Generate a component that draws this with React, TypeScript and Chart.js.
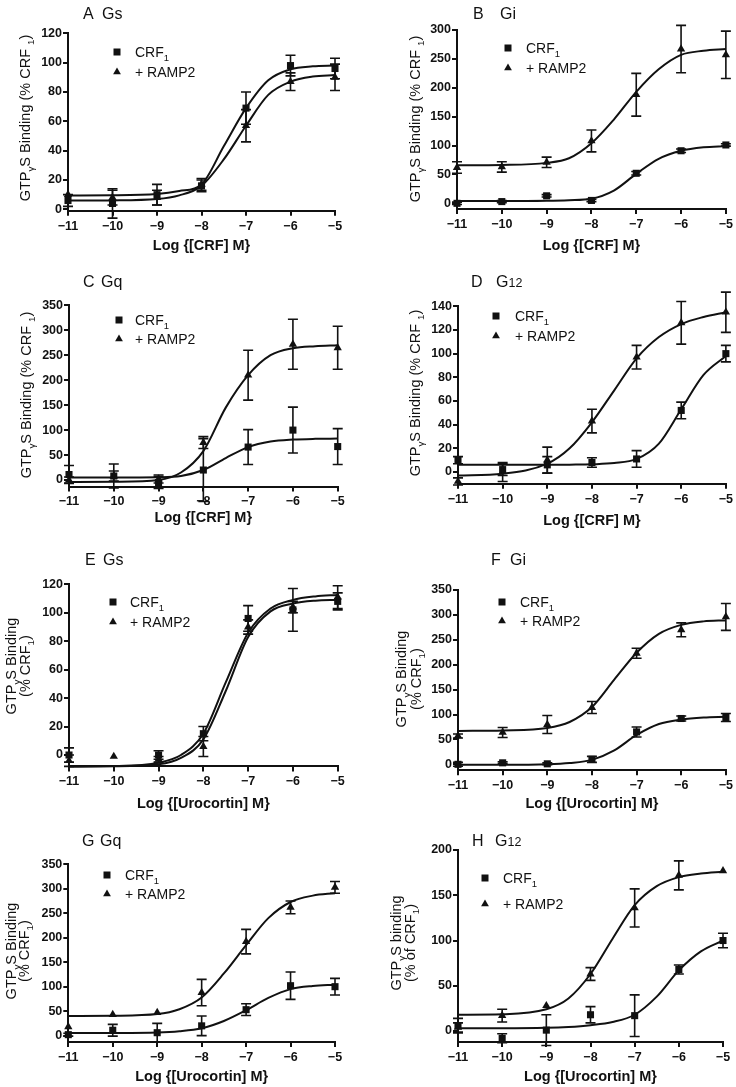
import React, { useEffect, useRef } from 'react';
import { Chart, registerables } from 'chart.js';

Chart.register(...registerables);

const FONT = '"Liberation Sans", Arial, Helvetica, sans-serif';
const INK = '#111';

// ---- shared axes ----
const doses = [-11, -10, -9, -8, -7, -6, -5];
const fitX = [-11, -10, -9, -8.5, -8, -7.5, -7, -6.5, -6, -5.5, -5];
const xTicks = [-11, -10, -9, -8, -7, -6, -5];

// ---- A  Gs (CRF) ----
const aYTicks = [0, 20, 40, 60, 80, 100, 120];
const aCrfY = [6, 4, 10, 16, 69, 98, 96];
const aCrfErr = [4, 10, 7, 4, 11, 7, 7];
const aRampY = [10, 8, 8, 17, 57, 87, 90];
const aRampErr = [0, 5, 5, 4, 11, 6, 9];
const aCrfFit = [9.5, 9.6, 10.5, 12.5, 17, 43, 69, 88, 95.5, 97.5, 98];
const aRampFit = [6, 6.1, 7, 9.5, 16, 34, 57, 78, 87, 90.5, 91.5];

// ---- B  Gi (CRF) ----
const bYTicks = [0, 50, 100, 150, 200, 250, 300];
const bCrfY = [0, 3, 13, 5, 52, 91, 101];
const bCrfErr = [2, 2, 2, 2, 3, 3, 2];
const bRampY = [62, 63, 71, 108, 188, 267, 257];
const bRampErr = [10, 9, 9, 19, 37, 41, 41];
const bCrfFit = [4, 4, 4.5, 5.5, 8, 22, 51, 77, 91, 97, 99];
const bRampFit = [66, 66.5, 70, 78, 104, 145, 193, 232, 257, 264, 267];

// ---- C  Gq (CRF) ----
const cYTicks = [0, 50, 100, 150, 200, 250, 300, 350];
const cCrfY = [11, 8, -5, 20, 66, 100, 67];
const cCrfErr = [18, 24, 12, 63, 35, 46, 36];
const cRampY = [0, 8, 2, 75, 210, 272, 265];
const cRampErr = [6, 10, 8, 12, 50, 50, 43];
const cCrfFit = [5, 5, 5.5, 8, 20, 44, 66, 77, 81, 82.5, 83];
const cRampFit = [-4, -3.5, 0, 15, 58, 145, 210, 250, 264, 268, 270];

// ---- D  G12 (CRF) ----
const dYTicks = [0, 20, 40, 60, 80, 100, 120, 140];
const dCrfY = [10, 2, 6, 8, 11, 52, 100];
const dCrfErr = [3, 5, 7, 4, 7, 7, 7];
const dRampY = [-8, 0, 10, 43, 97, 126, 135];
const dRampErr = [3, 8, 11, 10, 10, 18, 17];
const dCrfFit = [6, 6, 6, 6.2, 6.5, 7.5, 11, 24, 53, 82, 98];
const dRampFit = [-3, -1.5, 7, 20, 42, 69, 96, 114, 125, 131, 135];

// ---- E  Gs (Urocortin) ----
const eYTicks = [0, 20, 40, 60, 80, 100, 120];
const eCrfY: (number | null)[] = [0, null, 0, 15, 96, 102, 108];
const eCrfErr = [5, 0, 3, 5, 9, 15, 6];
const eRampY = [-4, -1, -3, 6, 90, 104, 111];
const eRampErr = [4, 0, 2, 7, 5, 4, 8];
const eCrfFit = [-8, -7.8, -5.5, 0, 15, 51, 86, 103, 109, 111.5, 112.5];
const eRampFit = [-8, -7.9, -6.5, -2, 11, 45, 83, 101, 106.5, 108.5, 109];

// ---- F  Gi (Urocortin) ----
const fYTicks = [0, 50, 100, 150, 200, 250, 300, 350];
const fCrfY = [0, 3, 1, 10, 65, 92, 94];
const fCrfErr = [4, 2, 2, 6, 10, 5, 8];
const fRampY = [57, 64, 80, 114, 223, 270, 296];
const fRampErr = [4, 10, 18, 12, 10, 14, 27];
const fCrfFit = [-1, -1, 0, 2.5, 9, 28, 59, 81, 90, 94, 95.5];
const fRampFit = [67, 68, 73, 85, 115, 170, 224, 262, 280, 287, 289];

// ---- G  Gq (Urocortin) ----
const gYTicks = [0, 50, 100, 150, 200, 250, 300, 350];
const gCrfY = [2, 11, 6, 20, 53, 102, 100];
const gCrfErr = [3, 12, 19, 20, 12, 28, 17];
const gRampY = [18, 43, 47, 88, 192, 262, 303];
const gRampErr = [0, 0, 0, 27, 25, 13, 12];
const gCrfFit = [5.5, 5.6, 6.5, 9, 15, 30, 52, 77, 95, 101.5, 104];
const gRampFit = [40, 40.5, 44, 54, 78, 127, 185, 240, 273, 286, 291];

// ---- H  G12 (Urocortin) ----
const hYTicks = [0, 50, 100, 150, 200];
const hCrfY = [6, -8, 1, 18, 17, 68, 100];
const hCrfErr = [8, 5, 17, 9, 23, 5, 8];
const hRampY = [4, 17, 28, 63, 136, 172, 177];
const hRampErr = [5, 7, 0, 7, 21, 16, 0];
const hCrfFit = [3, 3, 3.5, 4.5, 6.5, 10, 18, 38, 67, 88, 100];
const hRampFit = [18, 18.5, 24, 36, 63, 102, 139, 160, 170, 174, 176];

type Seg = { t: string; sub?: boolean; small?: boolean };
type Val = number | null;

const crfLabel: Seg[] = [{ t: 'CRF' }, { t: '1', sub: true }];
const rampLabel: Seg[] = [{ t: '+ RAMP2' }];
const yOne: Seg[] = [{ t: 'GTP' }, { t: 'γ', sub: true }, { t: 'S Binding (% CRF ' }, { t: '1', sub: true }, { t: ')' }];
const yTwoA: Seg[] = [{ t: 'GTP' }, { t: 'γ', sub: true }, { t: 'S Binding' }];
const yTwoB: Seg[] = [{ t: '(% CRF' }, { t: '1', sub: true }, { t: ')' }];
const yTwoAh: Seg[] = [{ t: 'GTP' }, { t: 'γ', sub: true }, { t: 'S binding' }];
const yTwoBh: Seg[] = [{ t: '(% of CRF' }, { t: '1', sub: true }, { t: ')' }];
const g12: Seg[] = [{ t: 'G' }, { t: '12', small: true }];

interface Panel {
  key: string;
  box: [number, number, number, number];
  plot: [number, number, number, number];
  yMin: number;
  yMax: number;
  yTicks: number[];
  crfY: Val[];
  crfErr: number[];
  rampY: Val[];
  rampErr: number[];
  crfFit: number[];
  rampFit: number[];
  letterX: number;
  nameX: number;
  titleY: number;
  name: Seg[];
  leg: { x: number; y1: number; y2: number; tx: number };
  yTitle: { x: number; y: number; segs: Seg[] }[];
  xTitle: string;
  xTitleY: number;
}

const panels: Panel[] = [
  {
    key: 'A', box: [0, 0, 368, 268], plot: [68, 33.3, 335, 210.8], yMin: -1, yMax: 120, yTicks: aYTicks,
    crfY: aCrfY, crfErr: aCrfErr, rampY: aRampY, rampErr: aRampErr, crfFit: aCrfFit, rampFit: aRampFit,
    letterX: 83, nameX: 102, titleY: 13, name: [{ t: 'Gs' }],
    leg: { x: 117, y1: 52, y2: 72, tx: 135 },
    yTitle: [{ x: 25, y: 118, segs: yOne }], xTitle: 'Log {[CRF] M}', xTitleY: 245,
  },
  {
    key: 'B', box: [368, 0, 368, 268], plot: [457, 30, 726, 209.1], yMin: -10, yMax: 300, yTicks: bYTicks,
    crfY: bCrfY, crfErr: bCrfErr, rampY: bRampY, rampErr: bRampErr, crfFit: bCrfFit, rampFit: bRampFit,
    letterX: 473, nameX: 500, titleY: 13, name: [{ t: 'Gi' }],
    leg: { x: 508, y1: 48, y2: 68, tx: 526 },
    yTitle: [{ x: 415, y: 119, segs: yOne }], xTitle: 'Log {[CRF] M}', xTitleY: 245,
  },
  {
    key: 'C', box: [0, 268, 368, 267], plot: [69, 305.3, 337.7, 486.5], yMin: -13, yMax: 350, yTicks: cYTicks,
    crfY: cCrfY, crfErr: cCrfErr, rampY: cRampY, rampErr: cRampErr, crfFit: cCrfFit, rampFit: cRampFit,
    letterX: 83, nameX: 101, titleY: 281, name: [{ t: 'Gq' }],
    leg: { x: 119, y1: 320, y2: 339, tx: 135 },
    yTitle: [{ x: 26, y: 395, segs: yOne }], xTitle: 'Log {[CRF] M}', xTitleY: 517,
  },
  {
    key: 'D', box: [368, 268, 368, 267], plot: [458, 306.3, 726, 483.8], yMin: -10, yMax: 140, yTicks: dYTicks,
    crfY: dCrfY, crfErr: dCrfErr, rampY: dRampY, rampErr: dRampErr, crfFit: dCrfFit, rampFit: dRampFit,
    letterX: 471, nameX: 496, titleY: 281, name: g12,
    leg: { x: 496, y1: 316, y2: 336, tx: 515 },
    yTitle: [{ x: 415, y: 393, segs: yOne }], xTitle: 'Log {[CRF] M}', xTitleY: 520,
  },
  {
    key: 'E', box: [0, 535, 368, 278], plot: [69, 584.3, 337.7, 766.4], yMin: -8, yMax: 120, yTicks: eYTicks,
    crfY: eCrfY, crfErr: eCrfErr, rampY: eRampY, rampErr: eRampErr, crfFit: eCrfFit, rampFit: eRampFit,
    letterX: 85, nameX: 103, titleY: 559, name: [{ t: 'Gs' }],
    leg: { x: 113, y1: 602, y2: 622, tx: 130 },
    yTitle: [{ x: 11, y: 666, segs: yTwoA }, { x: 25, y: 666, segs: yTwoB }], xTitle: 'Log {[Urocortin] M}', xTitleY: 803,
  },
  {
    key: 'F', box: [368, 535, 368, 278], plot: [458, 590, 726, 770.3], yMin: -12, yMax: 350, yTicks: fYTicks,
    crfY: fCrfY, crfErr: fCrfErr, rampY: fRampY, rampErr: fRampErr, crfFit: fCrfFit, rampFit: fRampFit,
    letterX: 491, nameX: 510, titleY: 559, name: [{ t: 'Gi' }],
    leg: { x: 502, y1: 602, y2: 621, tx: 520 },
    yTitle: [{ x: 401, y: 679, segs: yTwoA }, { x: 416, y: 679, segs: yTwoB }], xTitle: 'Log {[Urocortin] M}', xTitleY: 803,
  },
  {
    key: 'G', box: [0, 815, 368, 272], plot: [68.3, 864.3, 335, 1042], yMin: -13, yMax: 350, yTicks: gYTicks,
    crfY: gCrfY, crfErr: gCrfErr, rampY: gRampY, rampErr: gRampErr, crfFit: gCrfFit, rampFit: gRampFit,
    letterX: 82, nameX: 100, titleY: 840, name: [{ t: 'Gq' }],
    leg: { x: 107, y1: 875, y2: 894, tx: 125 },
    yTitle: [{ x: 11, y: 951, segs: yTwoA }, { x: 24, y: 951, segs: yTwoB }], xTitle: 'Log {[Urocortin] M}', xTitleY: 1076,
  },
  {
    key: 'H', box: [368, 815, 368, 272], plot: [458, 850, 723, 1041.9], yMin: -12, yMax: 200, yTicks: hYTicks,
    crfY: hCrfY, crfErr: hCrfErr, rampY: hRampY, rampErr: hRampErr, crfFit: hCrfFit, rampFit: hRampFit,
    letterX: 472, nameX: 495, titleY: 840, name: g12,
    leg: { x: 485, y1: 878, y2: 904, tx: 503 },
    yTitle: [{ x: 396, y: 943, segs: yTwoAh }, { x: 410, y: 943, segs: yTwoBh }], xTitle: 'Log {[Urocortin] M}', xTitleY: 1076,
  },
];

function drawRich(ctx: CanvasRenderingContext2D, segs: Seg[], x: number, y: number, size: number, weight: string, align: 'left' | 'center') {
  const sizeOf = (s: Seg) => (s.sub ? size * 0.68 : s.small ? size * 0.78 : size);
  const widths = segs.map((s) => {
    ctx.font = `${weight} ${sizeOf(s)}px ${FONT}`;
    return ctx.measureText(s.t).width;
  });
  const total = widths.reduce((a, b) => a + b, 0);
  let cx = align === 'center' ? x - total / 2 : x;
  const base = y + size * 0.36;
  ctx.textBaseline = 'alphabetic';
  ctx.textAlign = 'left';
  segs.forEach((s, i) => {
    ctx.font = `${weight} ${sizeOf(s)}px ${FONT}`;
    const dy = s.sub ? size * 0.28 : 0;
    ctx.fillText(s.t, cx, base + dy);
    cx += widths[i];
  });
}

function drawMarker(ctx: CanvasRenderingContext2D, kind: 'rect' | 'tri', x: number, y: number) {
  ctx.beginPath();
  if (kind === 'rect') {
    ctx.rect(x - 3.5, y - 3.5, 7, 7);
  } else {
    ctx.moveTo(x, y - 4.5);
    ctx.lineTo(x + 3.9, y + 2.25);
    ctx.lineTo(x - 3.9, y + 2.25);
    ctx.closePath();
  }
  ctx.fill();
}

function annot(p: Panel) {
  const [bx, by] = p.box;
  return {
    id: 'annot' + p.key,
    afterDatasetsDraw(chart: any) {
      const ctx: CanvasRenderingContext2D = chart.ctx;
      const xs = chart.scales.x;
      const ys = chart.scales.y;
      ctx.save();
      ctx.strokeStyle = INK;
      ctx.lineWidth = 1.6;
      const groups: [Val[], number[]][] = [[p.crfY, p.crfErr], [p.rampY, p.rampErr]];
      groups.forEach(([vals, errs]) => {
        doses.forEach((d, i) => {
          const e = errs[i];
          const v = vals[i];
          if (!e || v === null) return;
          const px = xs.getPixelForValue(d);
          const y1 = ys.getPixelForValue(v + e);
          const y2 = ys.getPixelForValue(v - e);
          ctx.beginPath();
          ctx.moveTo(px, y1);
          ctx.lineTo(px, y2);
          ctx.moveTo(px - 5, y1);
          ctx.lineTo(px + 5, y1);
          ctx.moveTo(px - 5, y2);
          ctx.lineTo(px + 5, y2);
          ctx.stroke();
        });
      });
      ctx.restore();
    },
    afterDraw(chart: any) {
      const ctx: CanvasRenderingContext2D = chart.ctx;
      const area = chart.chartArea;
      ctx.save();
      ctx.fillStyle = INK;
      drawRich(ctx, [{ t: p.key }], p.letterX - bx, p.titleY - by, 16, 'normal', 'left');
      drawRich(ctx, p.name, p.nameX - bx, p.titleY - by, 16, 'normal', 'left');
      drawMarker(ctx, 'rect', p.leg.x - bx, p.leg.y1 - by);
      drawMarker(ctx, 'tri', p.leg.x - bx, p.leg.y2 - by);
      drawRich(ctx, crfLabel, p.leg.tx - bx, p.leg.y1 - by, 14, 'normal', 'left');
      drawRich(ctx, rampLabel, p.leg.tx - bx, p.leg.y2 - by, 14, 'normal', 'left');
      drawRich(ctx, [{ t: p.xTitle }], (area.left + area.right) / 2, p.xTitleY - by, 14.5, 'bold', 'center');
      p.yTitle.forEach((yt) => {
        ctx.save();
        ctx.translate(yt.x - bx, yt.y - by);
        ctx.rotate(-Math.PI / 2);
        drawRich(ctx, yt.segs, 0, 0, 14.5, 'normal', 'center');
        ctx.restore();
      });
      ctx.restore();
    },
  };
}

const fmt = (v: number) => (v < 0 ? '\u2212' + Math.abs(v) : String(v));

function buildConfig(p: Panel): any {
  const [bx, by, bw, bh] = p.box;
  const [l, t, r, b] = p.plot;
  const pts = (ys: Val[]) => doses.map((x, i) => ({ x, y: ys[i] }));
  const fit = (ys: number[]) => fitX.map((x, i) => ({ x, y: ys[i] }));
  const curve = (ys: number[]) => ({
    data: fit(ys), showLine: true, borderColor: INK, borderWidth: 2, pointRadius: 0,
    cubicInterpolationMode: 'monotone', fill: false, clip: false,
  });
  const marks = (ys: Val[], style: string, radius: number) => ({
    data: pts(ys), showLine: false, pointStyle: style, pointRadius: radius,
    backgroundColor: INK, borderColor: INK, borderWidth: 0, clip: false,
  });
  const tickFont = { family: FONT, size: 12.5, weight: 'bold' };
  const grid = { display: true, drawOnChartArea: false, drawTicks: true, tickLength: 5, color: INK, lineWidth: 2 };
  const border = { display: true, color: INK, width: 2 };
  return {
    type: 'scatter',
    data: {
      datasets: [
        curve(p.crfFit),
        curve(p.rampFit),
        marks(p.rampY, 'triangle', 4.8),
        marks(p.crfY, 'rect', 5),
      ],
    },
    options: {
      responsive: false,
      animation: false,
      events: [],
      layout: { padding: { left: 0, top: t - by, right: bx + bw - r, bottom: 0 } },
      plugins: { legend: { display: false }, tooltip: { enabled: false }, title: { display: false } },
      scales: {
        x: {
          type: 'linear', position: 'bottom', min: -11, max: -5,
          afterBuildTicks: (s: any) => { s.ticks = xTicks.map((v) => ({ value: v })); },
          afterFit: (s: any) => { s.height = by + bh - b; },
          ticks: { font: tickFont, color: INK, padding: 3, maxRotation: 0, autoSkip: false, callback: (v: any) => fmt(Number(v)) },
          grid, border,
        },
        y: {
          type: 'linear', position: 'left', min: p.yMin, max: p.yMax,
          afterBuildTicks: (s: any) => { s.ticks = p.yTicks.map((v) => ({ value: v })); },
          afterFit: (s: any) => { s.width = l - bx; },
          ticks: { font: tickFont, color: INK, padding: 1, autoSkip: false, callback: (v: any) => fmt(Number(v)) },
          grid, border,
        },
      },
    },
    plugins: [annot(p)],
  };
}

export default function App() {
  const refs = useRef<(HTMLCanvasElement | null)[]>([]);
  useEffect(() => {
    const charts = panels.map((p, i) => new Chart(refs.current[i] as HTMLCanvasElement, buildConfig(p)));
    return () => charts.forEach((c) => c.destroy());
  }, []);
  return (
    <div style={{ position: 'absolute', left: 0, top: 0, width: 736, height: 1087, background: '#fff' }}>
      {panels.map((p, i) => (
        <canvas
          key={p.key}
          ref={(el) => { refs.current[i] = el; }}
          width={p.box[2]}
          height={p.box[3]}
          style={{ position: 'absolute', left: p.box[0], top: p.box[1], width: p.box[2], height: p.box[3], display: 'block' }}
        />
      ))}
    </div>
  );
}
